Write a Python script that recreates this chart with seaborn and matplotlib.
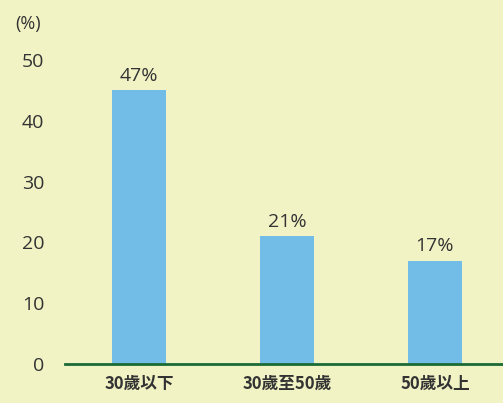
import seaborn as sns
import pandas as pd
import matplotlib.pyplot as plt

categories = ["30歲以下", "30歲至50歲", "50歲以上"]
values = [45, 21, 17]
value_labels = ["47%", "21%", "17%"]

bg = "#f1f3c4"
sns.set_style("white")
plt.rcParams["font.family"] = ["Open Sans", "Noto Sans CJK TC", "DejaVu Sans"]

df = pd.DataFrame({"group": categories, "pct": values})

fig = plt.figure(figsize=(5.03, 4.03), dpi=100, facecolor=bg)
ax = fig.add_axes([65 / 503, 1 - 364 / 403, 1 - 65 / 503, 324 / 403], facecolor=bg)

sns.barplot(data=df, x="group", y="pct", color="#72bde8", width=0.365,
            saturation=1, linewidth=0, ax=ax)
ax.bar_label(ax.containers[0], labels=value_labels, padding=4,
             fontsize=14, color="#333333")

ax.set_xlim(-0.5, 2.46)
ax.set_ylim(0, 53.3)
ax.set_yticks([0, 10, 20, 30, 40, 50])
ax.set_xlabel("")
ax.set_ylabel("")
for s in ["top", "right", "left"]:
    ax.spines[s].set_visible(False)
ax.spines["bottom"].set_color("#1a6a36")
ax.spines["bottom"].set_linewidth(2)
ax.tick_params(axis="y", length=0, pad=15, labelsize=14, labelcolor="#333333")
ax.tick_params(axis="x", length=0, pad=8, labelsize=12, labelcolor="#333333")
for t in ax.get_xticklabels():
    t.set_family(["Noto Sans CJK TC", "DejaVu Sans"])
    t.set_fontweight("bold")

fig.text(28 / 503, 1 - 24 / 403, "(%)", ha="center", va="center",
         fontsize=13, color="#333333")

plt.savefig("out.png", dpi=100, facecolor=bg)
